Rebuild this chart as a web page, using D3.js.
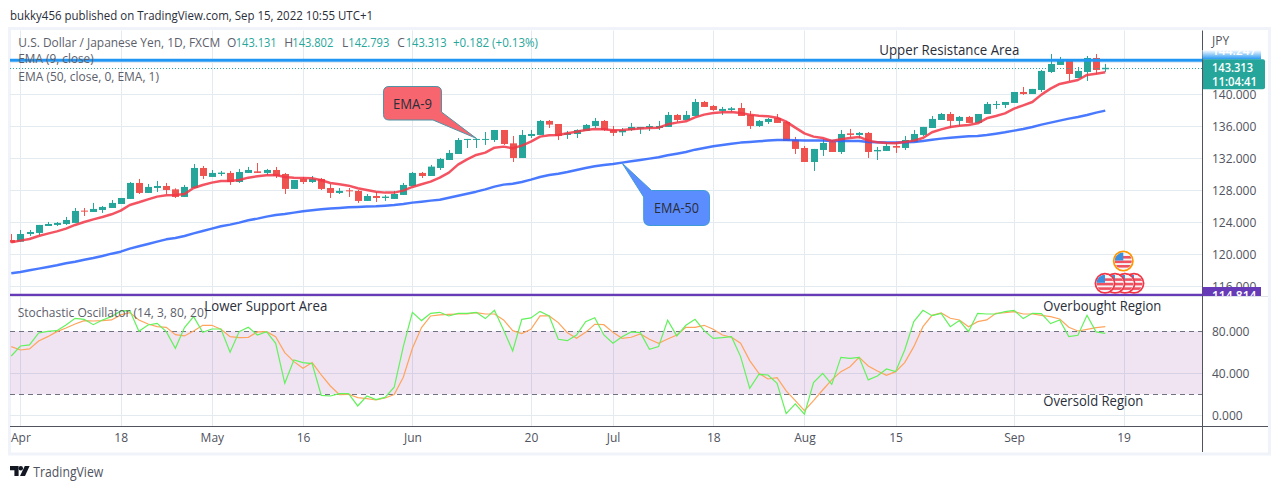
<!DOCTYPE html>
<html><head><meta charset="utf-8">
<script src="https://cdn.jsdelivr.net/npm/d3@7/dist/d3.min.js"></script>
<style>
html,body{margin:0;padding:0;background:#fff;overflow:hidden}
svg{display:block}
text{font-family:"Open Sans",Roboto,sans-serif}
</style></head><body><svg id="c" width="1280" height="489"></svg>
<script>
// ---------- data; first bar is the one before 4 Apr ----------
const opens=[121.79,
121.58,122.54,122.67,123.54,123.67,123.79,123.92,125.46,125.29,125.54,
125.79,126.29,126.92,128.92,127.67,128.29,128.54,128.12,127.17,128.29,
130.79,129.67,130.04,130.17,129.04,130.17,130.37,130.17,130.54,130.04,
128.17,129.42,129.04,129.42,128.29,127.67,128,127.92,126.67,127.29,
127.04,126.92,127.42,128.54,130.17,129.79,130.79,131.79,132.54,134.29,
134.33,134.33,134.29,135.54,133.87,132.04,134.79,134.92,136.67,136.29,
134.92,135.04,135.42,136.04,136.67,135.54,135.25,135.54,135.71,135.83,
135.79,135.92,137.42,136.79,137.29,139.04,138.54,137.92,138.04,138.29,
137.42,136.04,136.54,137.04,136.54,134.29,133.29,131.54,133.04,134.04,
132.79,135.12,134.92,135.17,132.87,132.92,133.54,133.29,134.04,134.92,
135.79,136.79,137.54,136.67,137.17,136.42,137.54,138.67,138.67,138.92,
140.29,140.04,140.54,142.79,143.67,144.17,142.04,142.79,144.54,143.131];
const highs=[122.54,
123.04,123.04,123.67,124.04,124.04,124.67,125.79,125.79,126.42,126.04,
126.79,127.04,129.04,129.42,128.79,129.17,128.92,128.25,128.67,131.29,
131.04,130.54,130.42,130.42,130.67,130.92,131.41,130.67,130.92,130.17,
129.29,129.67,129.79,129.54,128.79,128.29,128.29,128.04,127.54,127.79,
127.42,127.92,128.92,130.29,130.29,131.17,132.04,133.04,134.54,134.42,
134.5,135.29,135.54,135.54,134.79,135.54,135.54,136.79,136.79,136.29,
135.42,135.62,136.29,137.04,136.79,136.04,135.79,136.42,135.92,136.29,
136.67,137.79,137.54,137.92,139.42,139.17,138.67,138.42,138.42,138.92,
137.92,136.79,137.04,137.54,136.67,134.67,133.54,133.17,134.42,134.29,
135.54,135.67,135.29,135.29,133.42,133.92,134.04,134.79,135.54,135.92,
137.29,137.67,137.79,137.29,137.29,137.54,139.04,139.17,139.04,140.29,
140.92,140.67,143.04,145.04,144.67,144.29,143.42,144.79,145.04,143.802];
const lows=[121.46,
121.58,122.29,122.37,123.54,123.54,123.67,123.92,124.79,125.29,125.17,
125.79,126.29,126.92,127.54,127.67,127.79,127.54,127.04,127.17,128.29,
129.42,129.67,129.79,128.67,128.92,130.17,130.17,129.92,129.54,127.54,
128.17,128.79,128.92,128.04,127.04,127.54,127.17,126.42,126.67,126.54,
126.67,126.92,127.42,128.54,129.54,129.79,130.54,131.79,132.54,133.29,
133.29,133.67,134.04,133.67,131.54,132.04,134.54,134.92,135.79,134.29,
134.42,134.54,135.42,135.79,135.42,134.79,134.79,135.42,135.04,135.42,
135.54,135.92,136.54,136.79,137.29,138.42,137.92,137.42,137.79,137.29,
135.67,135.92,136.29,136.42,134.17,132.54,131.54,130.42,132.29,132.79,
132.54,134.62,134.5,132.04,131.79,132.92,132.67,133.04,134.04,134.79,
135.79,136.79,135.79,136.04,136.42,136.42,137.54,138.17,138.29,138.92,
139.92,140.04,140.29,142.67,143.67,141.67,142.04,141.67,142.54,142.793];
const closes=[121.46,
122.54,122.79,123.67,123.79,123.92,124.29,125.42,125.33,125.67,125.92,
126.42,127.04,128.92,127.67,128.42,128.54,128.04,127.17,128.42,130.79,
129.79,130.17,130.21,129.04,130.29,130.54,130.17,130.54,129.79,128.17,
129.29,129.04,129.42,128.17,127.67,127.92,127.87,126.67,127.29,127.04,
127.21,127.54,128.67,130.17,129.79,130.96,131.92,132.67,134.29,134.42,
134.42,134.42,135.54,133.79,132.04,134.92,135.04,136.67,136.21,134.79,
135.17,135.54,136.17,136.67,135.54,135.17,135.54,135.92,135.92,136.04,
136.04,137.42,136.79,137.42,139.04,138.42,138.04,138.17,138.25,137.29,
136.04,136.67,136.92,136.42,134.17,133.17,131.54,133.17,133.92,132.79,
135.04,134.92,135.17,132.79,133.04,133.54,133.33,134.29,135.04,135.92,
136.92,137.54,136.67,137.17,136.42,137.54,138.79,138.79,139.04,140.29,
140.04,140.67,142.92,143.79,144.29,142.54,142.92,144.54,143.04,143.313];
const ema9=[121.5,121.71,121.92,122.29,122.58,122.87,123.21,123.67,124.04,124.37,124.67,125,125.46,126.17,126.5,126.87,127.21,127.37,127.42,127.54,128.29,128.67,128.96,129.17,129.17,129.29,129.58,129.75,129.87,129.92,129.67,129.58,129.54,129.5,129.25,128.92,128.75,128.58,128.25,128.04,127.83,127.71,127.71,127.96,128.42,128.75,129.08,
129.58,130.21,131.21,131.87,132.42,132.71,133.33,133.46,133.25,133.58,134.08,134.71,134.87,134.92,135.12,135.33,135.54,135.67,135.62,135.5,135.54,135.62,135.71,135.79,135.83,136.25,136.46,136.62,137.12,137.46,137.67,137.75,137.79,137.67,137.46,137.33,137.25,137.08,136.58,135.83,135.12,134.71,134.54,134.17,134.37,134.54,134.67,
134.21,134,133.92,133.87,134.04,134.21,134.54,135.25,135.62,135.92,136.08,136.17,136.37,137,137.29,137.62,138.21,138.62,139.04,139.96,140.71,141.29,141.54,141.79,142.42,142.58,142.75];
const ema50=[117.62,117.79,118,118.21,118.42,118.62,118.87,119.08,119.33,119.54,119.79,120.08,120.33,120.71,121,121.29,121.58,121.87,122.04,122.29,122.62,122.92,123.21,123.5,123.71,123.96,124.25,124.46,124.71,124.92,125.04,125.21,125.37,125.5,125.62,125.71,125.79,125.87,125.92,125.96,126,126.08,126.17,126.29,126.46,126.58,126.71,
126.83,127.08,127.33,127.58,127.83,128.12,128.46,128.71,128.83,129.04,129.33,129.67,129.92,130.08,130.29,130.54,130.79,131,131.17,131.29,131.46,131.62,131.79,131.96,132.12,132.37,132.58,132.79,133.08,133.29,133.5,133.67,133.83,133.96,134.04,134.12,134.21,134.29,134.29,134.25,134.21,134.21,134.21,134.17,134.17,134.17,134.17,
134.04,134,133.96,133.96,134,134.04,134.17,134.33,134.46,134.58,134.67,134.75,134.79,134.92,135.08,135.25,135.46,135.67,135.92,136.21,136.46,136.71,136.96,137.17,137.42,137.71,137.96];
const stochK=[56.5,66,67,78.4,80,80.6,86,92.4,91.4,86.3,90.8,94,99.4,99.7,80,86,87.6,79.7,63.8,83.5,94,79,82.2,82.2,60,79.7,83.8,76.5,79.7,68.6,30.5,52.7,50.2,49.2,19,18.4,20.6,20.6,8.9,18.4,14.9,17.1,26.7,65.4,98.1,90.2,97.1,
98.1,94.6,97.1,97.1,98.1,92.1,100,81.3,61.3,91.4,92.7,99,94.6,72.4,71.1,76.5,89.2,93,76.5,68.6,74.9,79.4,78.7,62.9,65.4,90.5,75.6,85.7,91.4,80.6,73.3,74,74.9,55.9,25.7,39,38.4,30.5,1.6,10.8,1,31.1,40,29.5,55.2,54.3,55.2,
33.7,37.5,44.1,41.6,62.2,89.2,100,94.9,97.1,84.4,90.2,79.7,97.1,96.5,96.5,98.7,100,92.1,97.1,96.8,87.3,90.8,74.9,76.2,95.2,79.4,78.1];
const stochD=[65.4,62.2,63.2,70.8,74.9,79.7,83.2,87,90.2,89.8,90.2,90.8,95.6,97.8,90.8,87,84.4,83.8,76.8,75.6,80.3,85.7,85.7,81.9,74.9,74,74.3,79.4,79.7,74.9,59.7,51.1,44.8,50.2,38.4,27.9,19.7,20,16.8,15.9,14.6,16.5,19.7,36.2,63.8,83.5,94.6,
95.6,96.2,96.5,96.5,97.8,96.5,96.5,90.8,80.6,77.8,81.9,94.6,94.6,88.3,78.7,73.3,79,86.7,86.3,79,73.3,74.3,77.5,72.4,68.6,72.7,76.5,83.8,83.8,85.7,81.9,76.5,74.3,68.6,52.1,40,34.6,35.9,23.2,14,4.4,14,24.1,33.7,41.6,46.3,55.2,
47,42.2,38.1,41.6,50.2,65.4,84.4,95.2,97.5,92.4,90.8,84.4,89.2,90.8,97.1,97.8,98.7,96.5,96.5,95.2,94,91.7,83.8,80.3,81.9,83.5,84.4];
const timeTickBars=[0,11,21,31,43,56,65,76,86,96,109,121];
const timeTickLabels=["Apr","18","May","16","Jun","20","Jul","18","Aug","15","Sep","19"];
const priceTicks=[140,136,132,128,124,120,116];
const priceGrid=[144,140,136,132,128,124,120,116];
const stochTicks=[80,40,0];
const resistanceLevel=144.247, supportLevel=114.814, lastClose=143.313;
const bandHigh=80, bandLow=20;

// ---------- scales ----------
const C={green:"#26a69a",red:"#ef5350",grid:"#e3ebf1",axis:"#50535e",txt:"#5d606b",dark:"#2a2e39"};
const L=10,R=1202,MT=30.5,MB=296,ST=297,SB=426;
const svg=d3.select("#c");
const barIdx=d3.range(opens.length).map(i=>i-1);
const x=d3.scaleLinear().domain([0,121]).range([20.4,1123.5]);
const y=d3.scaleLinear().domain([116,140]).range([286.3,94.3]);
const ys=d3.scaleLinear().domain([0,80]).range([415.3,331.3]);
const defs=svg.append("defs");
defs.append("clipPath").attr("id","main").append("rect").attr("x",L).attr("y",MT).attr("width",R-L).attr("height",MB-MT);
defs.append("clipPath").attr("id","sub").append("rect").attr("x",L).attr("y",ST).attr("width",R-L).attr("height",SB-ST);
defs.append("clipPath").attr("id","plab").append("rect").attr("x",R).attr("y",280).attr("width",70).attr("height",16);
const g0=defs.append("linearGradient").attr("id","fade").attr("x1",0).attr("x2",0).attr("y1",0).attr("y2",1);
g0.append("stop").attr("offset",0).attr("stop-color","#fff");
g0.append("stop").attr("offset",1).attr("stop-color","#2196f3");
defs.append("clipPath").attr("id","flag").append("circle").attr("r",8.5);

function T(s,xp,yp,o={}){
  const t=svg.append("text").text(s).attr("x",xp).attr("y",yp)
    .attr("font-size",o.size||12).attr("fill",o.fill||C.txt).attr("dominant-baseline","central");
  if(o.w){t.attr("textLength",o.w).attr("lengthAdjust","spacingAndGlyphs");}
  if(o.weight)t.attr("font-weight",o.weight);
  if(o.anchor)t.attr("text-anchor",o.anchor);
  return t;
}

// ---------- frame ----------
svg.append("path").attr("fill","none").attr("stroke","#f0f3fa").attr("stroke-width",3)
  .attr("d","M9.5 28.5H1269.5V454H9.5Z");

// ---------- grid ----------
const grid=svg.append("g").attr("fill","none").attr("stroke",C.grid).attr("stroke-width",1);
priceGrid.forEach(v=>grid.append("line").attr("x1",L).attr("x2",R).attr("y1",Math.round(y(v))+.5).attr("y2",Math.round(y(v))+.5));
timeTickBars.forEach(b=>grid.append("line").attr("x1",Math.round(x(b))+.5).attr("x2",Math.round(x(b))+.5).attr("y1",MT).attr("y2",SB));
[40,0].forEach(v=>grid.append("line").attr("x1",L).attr("x2",R).attr("y1",Math.round(ys(v))+.5).attr("y2",Math.round(ys(v))+.5));

// ---------- stochastic band ----------
svg.append("rect").attr("x",L).attr("width",R-L).attr("y",ys(bandHigh)).attr("height",ys(bandLow)-ys(bandHigh))
  .attr("fill","#8e2a9a").attr("fill-opacity",.13);
[bandHigh,bandLow].forEach(v=>svg.append("line").attr("x1",L).attr("x2",R)
  .attr("y1",Math.round(ys(v))+.5).attr("y2",Math.round(ys(v))+.5)
  .attr("stroke","#6f7280").attr("stroke-width",1).attr("stroke-dasharray","5 4"));

// ---------- candles ----------
const main=svg.append("g").attr("clip-path","url(#main)");
const bars=main.selectAll("g.b").data(barIdx).join("g").attr("class","b")
  .attr("fill",(b,i)=>closes[i]>=opens[i]?C.green:C.red);
bars.append("rect").attr("x",b=>Math.round(x(b)))
  .attr("width",1).attr("y",(b,i)=>y(highs[i])).attr("height",(b,i)=>y(lows[i])-y(highs[i]));
bars.append("rect").attr("x",b=>Math.round(x(b))-3).attr("width",7)
  .attr("y",(b,i)=>y(Math.max(opens[i],closes[i])))
  .attr("height",(b,i)=>Math.max(1,Math.abs(y(opens[i])-y(closes[i]))));

// ---------- EMA lines ----------
const lineP=arr=>d3.line().x((d,i)=>x(i-1)).y(d=>y(d))(arr);
main.append("path").attr("d",lineP(ema50)).attr("fill","none").attr("stroke","#2962ff").attr("stroke-width",2.5).attr("stroke-opacity",.85).attr("stroke-linejoin","round");
main.append("path").attr("d",lineP(ema9)).attr("fill","none").attr("stroke","#f23645").attr("stroke-width",2.5).attr("stroke-opacity",.85).attr("stroke-linejoin","round");

// ---------- price lines ----------
main.append("line").attr("x1",L).attr("x2",R).attr("y1",Math.round(y(lastClose))+.5).attr("y2",Math.round(y(lastClose))+.5)
  .attr("stroke",C.green).attr("stroke-width",1).attr("stroke-dasharray","1 2");
main.append("line").attr("x1",L).attr("x2",R).attr("y1",y(resistanceLevel)).attr("y2",y(resistanceLevel))
  .attr("stroke","#2196f3").attr("stroke-width",3);
main.append("line").attr("x1",L).attr("x2",R).attr("y1",y(supportLevel)-1).attr("y2",y(supportLevel)-1)
  .attr("stroke","#673ab7").attr("stroke-width",2.2);

// ---------- stochastic lines ----------
const sub=svg.append("g").attr("clip-path","url(#sub)");
const lineS=arr=>d3.line().x((d,i)=>x(i-1)).y(d=>ys(d))(arr);
sub.append("path").attr("d",lineS(stochD)).attr("fill","none").attr("stroke","#ffa45c").attr("stroke-width",1.2);
sub.append("path").attr("d",lineS(stochK)).attr("fill","none").attr("stroke","#62f25c").attr("stroke-width",1.2);

// ---------- separators & axes ----------
svg.append("line").attr("x1",L).attr("x2",1268).attr("y1",296.5).attr("y2",296.5).attr("stroke","#e0e3eb");
svg.append("line").attr("x1",R+.5).attr("x2",R+.5).attr("y1",MT).attr("y2",452).attr("stroke",C.axis);
svg.append("line").attr("x1",L).attr("x2",1268).attr("y1",426.5).attr("y2",426.5).attr("stroke",C.axis);

function styleAxis(g,size){
  g.select(".domain").remove();
  g.selectAll(".tick line").remove();
  g.selectAll("text").attr("font-size",size).attr("fill",C.axis).attr("font-family",'"Open Sans",Roboto,sans-serif');
}
svg.append("g").attr("transform",`translate(${R},0)`)
  .call(d3.axisRight(y).tickValues(priceTicks).tickFormat(d3.format(".3f")).tickSize(0).tickPadding(10))
  .call(styleAxis,12);
svg.append("g").attr("transform",`translate(${R},0)`)
  .call(d3.axisRight(ys).tickValues(stochTicks).tickFormat(d3.format(".3f")).tickSize(0).tickPadding(10))
  .call(styleAxis,12);
svg.append("g").attr("transform",`translate(0,${SB})`)
  .call(d3.axisBottom(x).tickValues(timeTickBars).tickFormat((d,i)=>timeTickLabels[i]).tickSize(0).tickPadding(7))
  .call(styleAxis,12);

// ---------- right axis labels ----------
T("JPY",1212,40.7,{size:12,fill:C.axis});
svg.append("rect").attr("x",R+.5).attr("y",50).attr("width",58.5).attr("height",9.5).attr("fill","url(#fade)");
T(d3.format(".3f")(resistanceLevel),1212,50,{size:12,fill:"#fff",weight:600});
svg.append("path").attr("d","M1203 59.3H1263a2 2 0 0 1 2 2V87.3a2 2 0 0 1-2 2H1203Z").attr("fill",C.green);
T(d3.format(".3f")(lastClose),1212,67.8,{size:12,fill:"#fff",weight:600,w:41});
T("11:04:41",1212,81.8,{size:12,fill:"#fff",weight:600,w:45});
const pl=svg.append("g").attr("clip-path","url(#plab)");
pl.append("rect").attr("x",R+.5).attr("y",287).attr("width",58.5).attr("height",9).attr("fill","#673ab7");
pl.append("text").text(d3.format(".3f")(supportLevel)).attr("x",1212).attr("y",295.3).attr("dominant-baseline","central")
  .attr("font-size",12).attr("font-weight",600).attr("fill","#fff");

// ---------- header, legends ----------
T("bukky456 published on TradingView.com, Sep 15, 2022 10:55 UTC+1",10,15,{size:12,fill:C.dark,w:363});
T("U.S. Dollar / Japanese Yen, 1D, FXCM",18.3,42,{w:202});
[["O",227,"143.131",235.7],["H",284.3,"143.802",292.3],["L",342,"142.793",348.3],["C",397.3,"143.313",405.7]].forEach(r=>{
  T(r[0],r[1],42); T(r[2],r[3],42,{fill:C.green,w:41});
});
T("+0.182 (+0.13%)",453,42,{fill:C.green,w:85});
T("EMA (9, close)",18.3,58.7,{w:75.4});
T("EMA (50, close, 0, EMA, 1)",18.3,76,{w:140.7});
T("Stochastic Oscillator (14, 3, 80, 20)",17.7,312,{w:189.6});

// ---------- annotations ----------
const box=(d,fill,stroke)=>svg.append("path").attr("d",d).attr("fill",fill).attr("stroke",stroke).attr("stroke-width",1).attr("stroke-linejoin","round");
box(`M389 86.5H436Q441.5 86.5 441.5 92V112L${x(50)} ${y(134.5)}L433 120H389Q383.5 120 383.5 114.5V92Q383.5 86.5 389 86.5Z`,"#f7666f","#4f93a5");
T("EMA-9",412.5,103,{size:14,fill:C.dark,anchor:"middle",w:39});
box(`M651.5 190.5H703Q709.5 190.5 709.5 197V219Q709.5 225.5 703 225.5H650Q643.7 225.5 643.7 219V197L${x(66)} ${y(131.4)}Z`,"#5c8dff","#3f9bd6");
T("EMA-50",676.5,207,{size:14,fill:C.dark,anchor:"middle",w:45});
T("Upper Resistance Area",879.3,49,{size:14,fill:C.dark,w:140});
T("Lower Support Area",204.3,305.7,{size:14,fill:C.dark,w:123});
T("Overbought Region",1043.3,305.5,{size:14,fill:C.dark,w:118});
T("Oversold Region",1043.3,400,{size:14,fill:C.dark,w:100});

// ---------- event flags ----------
function flag(cx,cy,ring){
  const g=svg.append("g").attr("transform",`translate(${cx},${cy})`);
  g.append("circle").attr("r",9.6).attr("fill","#fff").attr("stroke",ring).attr("stroke-width",1.8);
  const f=g.append("g").attr("clip-path","url(#flag)");
  f.append("rect").attr("x",-9).attr("y",-9).attr("width",18).attr("height",18).attr("fill","#f4f4f8");
  [-5,-.5,4].forEach(s=>f.append("rect").attr("x",-9).attr("y",s).attr("width",18).attr("height",2.6).attr("fill","#ef5362"));
  f.append("rect").attr("x",-9).attr("y",-9).attr("width",9).attr("height",8.5).attr("fill","#3b8fdf");
}
flag(1134,283.3,"#f23645");flag(1125,283.3,"#f23645");flag(1115,283.3,"#f23645");flag(1105,283.3,"#f23645");
flag(1123.3,261,"#ff9800");

// ---------- footer ----------
svg.append("path").attr("d","M10 466H18.6V476H14.4V470.2H10Z").attr("fill","#131722");
svg.append("circle").attr("cx",20.8).attr("cy",468.3).attr("r",2.2).attr("fill","#131722");
svg.append("path").attr("d","M24.8 466H29.6L25 476H20Z").attr("fill","#131722");
T("TradingView",33.3,471,{size:14,fill:C.axis,w:70});
</script></body></html>
